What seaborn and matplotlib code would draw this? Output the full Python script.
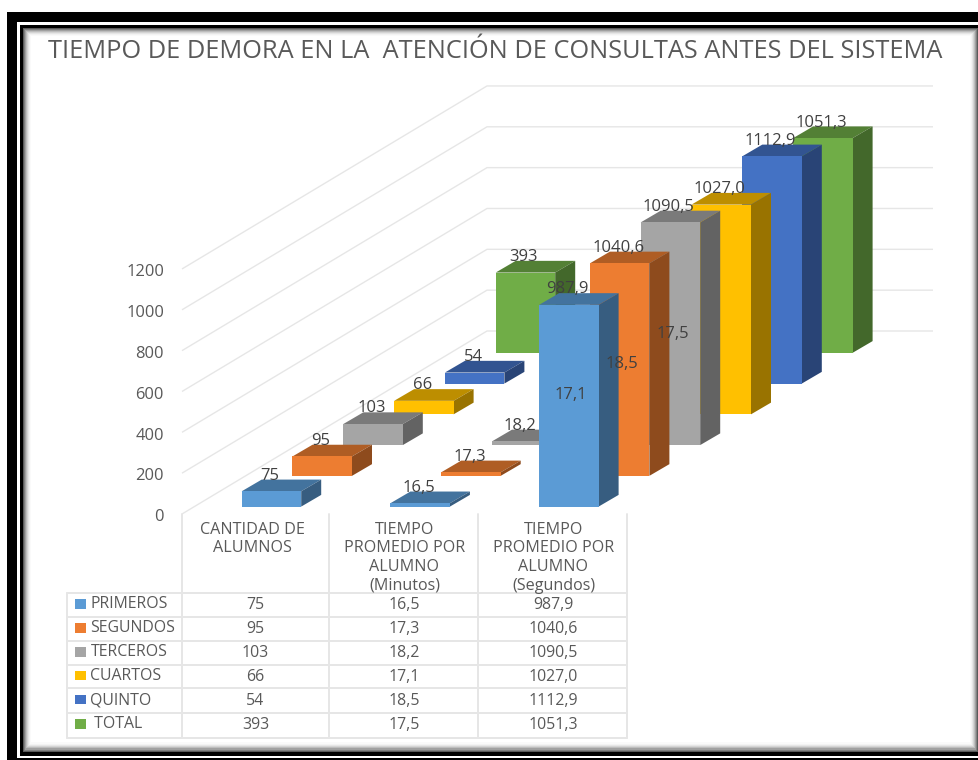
import matplotlib
matplotlib.use("Agg")
import matplotlib.pyplot as plt
from matplotlib.patches import Rectangle
import numpy as np
import pandas as pd
import seaborn as sns

TITLE = "TIEMPO DE DEMORA EN LA  ATENCIÓN DE CONSULTAS ANTES DEL SISTEMA"
grades = ["PRIMEROS", "SEGUNDOS", "TERCEROS", "CUARTOS", "QUINTO", " TOTAL"]
alumnos = [75, 95, 103, 66, 54, 393]
minutos = [16.5, 17.3, 18.2, 17.1, 18.5, 17.5]
segundos = [987.9, 1040.6, 1090.5, 1027.0, 1112.9, 1051.3]
col_headers = [["CANTIDAD DE", "ALUMNOS"],
               ["TIEMPO", "PROMEDIO POR", "ALUMNO", "(Minutos)"],
               ["TIEMPO", "PROMEDIO POR", "ALUMNO", "(Segundos)"]]
yticks = [0, 200, 400, 600, 800, 1000, 1200]
colors = ["#5B9BD5", "#ED7D31", "#A5A5A5", "#FFC000", "#4472C4", "#70AD47"]

sns.set_theme(style="white")
plt.rcParams["font.family"] = ["Open Sans", "DejaVu Sans"]
TXT = "#595959"
LBL = "#404040"
GRID = "#E6E6E6"

W, H = 979, 760
fig = plt.figure(figsize=(W / 100, H / 100), dpi=100)
ax = fig.add_axes([0, 0, 1, 1])

# Axis scale: x is pixels, y is chart value; 0 on the wall sits at py=514
K = 0.2042
Y0 = 514


def val(py):
    return (Y0 - py) / K


def shade(c, f):
    r = np.array(matplotlib.colors.to_rgb(c)) * f
    return tuple(r)


# Oblique projection of the 3D chart
ROW_DX, ROW_DY = 50.8, 30.76
DEPTH_X, DEPTH_Y = 20, 11.7
BAR_W = 59.5
GROUP_DX = 148.7
X_START = 241.7
BOTTOM_PY = 506.6

df = pd.DataFrame({"grade": grades, "alumnos": alumnos,
                   "minutos": minutos, "segundos": segundos})
series = ["alumnos", "minutos", "segundos"]


def frame_rect(x0, y0, x1, y1, color, z=0):
    ax.add_patch(Rectangle((x0, val(y1)), x1 - x0, val(y0) - val(y1),
                           fc=color, ec="none", zorder=z))


# Frame
frame_rect(0, 0, W, H, "white", 0)
frame_rect(7.5, 12, W, H, "black", 0.1)
frame_rect(17, 22, W, 758, "white", 0.2)
frame_rect(20, 25, 979, 755.5, "black", 0.3)
for i, g in enumerate(["#5a5a5a", "#808080", "#a0a0a0", "#bdbdbd", "#d4d4d4", "#e6e6e6", "#f3f3f3", "#fafafa"]):
    frame_rect(23.5 + i, 28 + i, 978 - i, 752 - i * 1.2, g, 0.4 + i * 0.01)
frame_rect(31.5, 36, 970, 742, "white", 0.5)

# Walls / gridlines
WALL_X0, WALL_X1, WALL_X2 = 182, 487, 933
WALL_LIFT = 183
for t in yticks:
    ax.plot([WALL_X0, WALL_X1, WALL_X2],
            [t, t + WALL_LIFT / K, t + WALL_LIFT / K],
            color=GRID, lw=1.0, zorder=1, solid_capstyle="butt")
    ax.text(164, t - 3.2 / K, str(t), ha="right", va="center",
            fontsize=11.9, color=TXT, zorder=30)

# Bars (back rows first)
z = 5
labels = []
for row in reversed(range(len(df))):
    base = val(BOTTOM_PY - row * ROW_DY)
    for g, s in enumerate(series):
        h = float(df.loc[row, s])
        left = X_START + g * GROUP_DX + row * ROW_DX
        cx = left + BAR_W / 2
        right = left + BAR_W
        top = base + h
        dy = DEPTH_Y / K
        ax.fill([left, right, right + DEPTH_X, left + DEPTH_X],
                [top, top, top + dy, top + dy],
                color=shade(colors[row], 0.74), lw=0, zorder=z)
        ax.fill([right, right + DEPTH_X, right + DEPTH_X, right],
                [base, base + dy, top + dy, top],
                color=shade(colors[row], 0.6), lw=0, zorder=z)
        sns.barplot(x=[cx], y=[h], native_scale=True, width=BAR_W,
                    bottom=base, color=colors[row], saturation=1,
                    errorbar=None, linewidth=0, ax=ax, zorder=z + 0.5)
        if s == "alumnos":
            txt = str(int(h))
        else:
            txt = f"{h:.1f}".replace(".", ",")
        labels.append((cx - 1.5, top + 15.6 / K, txt))
        z += 1

for cx, y, txt in labels:
    ax.text(cx, y, txt, ha="center", va="center", fontsize=12, color=LBL, zorder=40)

# Data table
V_LINES = [67.5, 182, 329.5, 478.5, 627.5]
H_LINES = [593.3, 617, 641, 664.7, 688.3, 713.3, 737.7]
TOP_PY = 514
for i, x in enumerate(V_LINES):
    top = H_LINES[0] if i == 0 else TOP_PY
    ax.plot([x, x], [val(top), val(H_LINES[-1])], color=GRID, lw=1.4, zorder=20)
for y in H_LINES:
    ax.plot([V_LINES[0], V_LINES[-1]], [val(y)] * 2, color=GRID, lw=1.4, zorder=20)

col_cx = [252.5, 404.5, 553.5]
HEAD_PY = 530
HEAD_STEP = 18.5
for cx, lines in zip(col_cx, col_headers):
    for i, line in enumerate(lines):
        ax.text(cx, val(HEAD_PY + i * HEAD_STEP), line, ha="center", va="center",
                fontsize=11.6, color=TXT, zorder=30)

row_py = [605, 629, 653, 676.7, 700.7, 725]
for r in range(len(df)):
    py = row_py[r]
    frame_rect(74.7, py - 5.7, 86, py + 3.7, colors[r], 25)
    ax.text(90.5, val(py - 0.5), grades[r], ha="left", va="center",
            fontsize=11.4, color=TXT, zorder=30)
    ax.text(col_cx[0] + 3, val(py), str(alumnos[r]), ha="center", va="center",
            fontsize=11.4, color=TXT, zorder=30)
    ax.text(col_cx[1], val(py), f"{minutos[r]:.1f}".replace(".", ","), ha="center",
            va="center", fontsize=11.4, color=TXT, zorder=30)
    ax.text(col_cx[2], val(py), f"{segundos[r]:.1f}".replace(".", ","), ha="center",
            va="center", fontsize=11.4, color=TXT, zorder=30)

ax.text(48, val(52), TITLE, ha="left", va="center", fontsize=18.25, color=TXT, zorder=30)

ax.set_xlim(0, W)
ax.set_ylim(val(H), val(0))
ax.set_axis_off()
fig.savefig("out.png", dpi=100)
